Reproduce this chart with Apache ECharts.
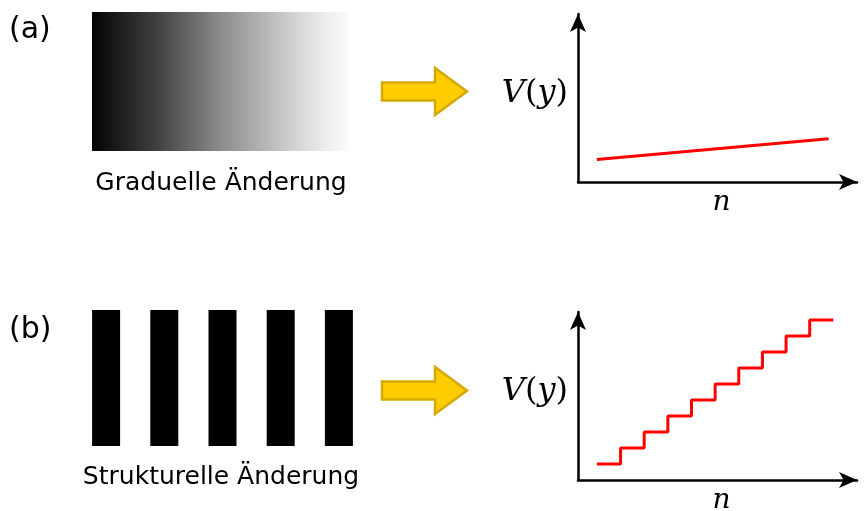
<!DOCTYPE html>
<html>
<head>
<meta charset="utf-8">
<script src="https://cdn.jsdelivr.net/npm/echarts@6/dist/echarts.min.js"></script>
<style>
  html, body { margin: 0; padding: 0; background: #fff; }
  #chart { width: 867px; height: 511px; }
</style>
</head>
<body>
<div id="chart"></div>
<script>
// (a) gradual change: straight line, n -> V(y)
const gradualN = [0, 9.8]
const gradualV = [1.4, 2.7]

// (b) structural change: staircase, one level per stripe edge
const stepN = [0, 1, 2, 3, 4, 5, 6, 7, 8, 9, 10]
const stepV = [1, 2, 3, 4, 5, 6, 7, 8, 9, 10, 10]

// black stripes of panel (b)
const stripeCats = ['1', '2', '3', '4', '5']
const stripeValues = [1, 1, 1, 1, 1]

const panelLabels = ['(a)', '(b)']
const captions = ['Graduelle Änderung', 'Strukturelle Änderung']

const chart = echarts.init(document.getElementById('chart'), null, { renderer: 'canvas' })

const axisColor = '#000'
const lineRed = '#ff0000'
const mathFont = 'DejaVu Serif'

function plotAxes(gridIndex) {
    const x = {
        gridIndex,
        type: 'value',
        min: -0.8,
        max: 11,
        axisLine: { show: true, onZero: false, symbol: ['none', 'arrow'], symbolSize: [12, 18], lineStyle: { color: axisColor, width: 2.5 } },
        axisTick: { show: false },
        axisLabel: { show: false },
        splitLine: { show: false },
        name: 'n',
        nameLocation: 'middle',
        nameGap: 7,
        nameTextStyle: { fontFamily: mathFont, fontStyle: 'italic', fontSize: 28, color: '#000', padding: [0, 0, 0, 8] }
    }
    const y = {
        gridIndex,
        type: 'value',
        min: 0,
        max: 10.5,
        axisLine: { show: true, onZero: false, symbol: ['none', 'arrow'], symbolSize: [12, 18], lineStyle: { color: axisColor, width: 2.5 } },
        axisTick: { show: false },
        axisLabel: { show: false },
        splitLine: { show: false },
        name: '{i|V}{r|(}{i|y}{r|)}',
        nameLocation: 'middle',
        nameRotate: 0,
        nameGap: 10,
        nameTextStyle: {
            color: '#000',
            padding: [0, 0, 8, 0],
            rich: {
                i: { fontFamily: mathFont, fontStyle: 'italic', fontSize: 32, color: '#000' },
                r: { fontFamily: mathFont, fontSize: 32, color: '#000' }
            }
        }
    }
    return [x, y]
}

const [x0, y0] = plotAxes(0)
const [x1, y1] = plotAxes(1)

function arrowShape(cy) {
    const left = 382, neck = 435, tip = 467, body = 9, head = 23.5
    return [
        [left, cy - body], [neck, cy - body], [neck, cy - head], [tip, cy],
        [neck, cy + head], [neck, cy + body], [left, cy + body]
    ]
}

chart.setOption({
    backgroundColor: '#fff',
    animation: false,
    grid: [
        { left: 578, top: 14, width: 279, height: 168, outerBoundsMode: 'none' },
        { left: 578, top: 312, width: 279, height: 168, outerBoundsMode: 'none' },
        { left: 77, top: 310, width: 291, height: 136, outerBoundsMode: 'none' }
    ],
    xAxis: [
        x0, x1,
        { gridIndex: 2, type: 'category', data: stripeCats, show: false }
    ],
    yAxis: [
        y0, y1,
        { gridIndex: 2, type: 'value', min: 0, max: 1, show: false }
    ],
    series: [
        {
            type: 'line',
            xAxisIndex: 0,
            yAxisIndex: 0,
            data: gradualN.map((n, i) => [n, gradualV[i]]),
            showSymbol: false,
            lineStyle: { color: lineRed, width: 3 }
        },
        {
            type: 'line',
            xAxisIndex: 1,
            yAxisIndex: 1,
            step: 'end',
            data: stepN.map((n, i) => [n, stepV[i]]),
            showSymbol: false,
            lineStyle: { color: lineRed, width: 3 }
        },
        {
            type: 'bar',
            xAxisIndex: 2,
            yAxisIndex: 2,
            data: stripeValues,
            barWidth: 28,
            itemStyle: { color: '#000' }
        }
    ],
    graphic: [
        {
            type: 'rect',
            shape: { x: 92, y: 12, width: 258, height: 139 },
            style: {
                fill: new echarts.graphic.LinearGradient(0, 0, 1, 0, [
                    { offset: 0, color: '#030303' },
                    { offset: 0.25, color: '#404040' },
                    { offset: 0.5, color: '#8c8c8c' },
                    { offset: 0.75, color: '#cacaca' },
                    { offset: 0.9, color: '#ececec' },
                    { offset: 1, color: '#fbfbfb' }
                ])
            }
        },
        { type: 'polygon', shape: { points: arrowShape(91.5) }, style: { fill: '#ffcc00', stroke: '#d4aa00', lineWidth: 2.5 } },
        { type: 'polygon', shape: { points: arrowShape(390.5) }, style: { fill: '#ffcc00', stroke: '#d4aa00', lineWidth: 2.5 } },
        { type: 'text', x: 9, y: 30, style: { text: panelLabels[0], font: '30px "DejaVu Sans"', fill: '#000', verticalAlign: 'middle' } },
        { type: 'text', x: 9, y: 330, style: { text: panelLabels[1], font: '30px "DejaVu Sans"', fill: '#000', verticalAlign: 'middle' } },
        { type: 'text', x: 221, y: 183, style: { text: captions[0], font: '25px "DejaVu Sans"', fill: '#000', align: 'center', verticalAlign: 'middle' } },
        { type: 'text', x: 221, y: 477, style: { text: captions[1], font: '25px "DejaVu Sans"', fill: '#000', align: 'center', verticalAlign: 'middle' } }
    ]
})
</script>
</body>
</html>
